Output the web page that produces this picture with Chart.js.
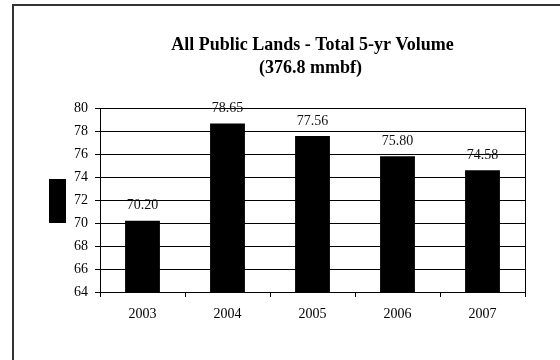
<!DOCTYPE html>
<html>
<head>
<meta charset="utf-8">
<script src="https://cdn.jsdelivr.net/npm/chart.js@4.4.1/dist/chart.umd.min.js"></script>
<style>
  html, body { margin: 0; padding: 0; background: #fff; }
  #wrap { width: 560px; height: 360px; position: relative; }
</style>
</head>
<body>
<div id="wrap"><canvas id="c"></canvas></div>
<script>
// Chart text and values
const titleLines = ['All Public Lands - Total 5-yr Volume', '(376.8 mmbf)'];
const years = ['2003', '2004', '2005', '2006', '2007'];
const volumes = [70.20, 78.65, 77.56, 75.80, 74.58];
const yMin = 64;
const yMax = 80;
const yStep = 2;

const serif = "'Liberation Serif', 'Times New Roman', Times, serif";

// White page with the framing border of the chart object
const outerFrame = {
  id: 'outerFrame',
  beforeDraw(chart) {
    const ctx = chart.ctx;
    ctx.save();
    ctx.fillStyle = '#fff';
    ctx.fillRect(0, 0, chart.width, chart.height);
    ctx.strokeStyle = '#333';
    ctx.lineWidth = 2;
    ctx.strokeRect(13, 5, chart.width + 40, chart.height + 40);
    ctx.restore();
  }
};

// Two-line bold title, centred over the plot area
const plotTitle = {
  id: 'plotTitle',
  afterDraw(chart) {
    const a = chart.chartArea;
    const ctx = chart.ctx;
    const cx = (a.left + a.right) / 2;
    ctx.save();
    ctx.font = 'bold 18px ' + serif;
    ctx.fillStyle = '#000';
    ctx.textAlign = 'center';
    ctx.textBaseline = 'alphabetic';
    ctx.fillText(titleLines[0], cx, 50);
    ctx.fillText(titleLines[1], cx - 2, 73);
    ctx.restore();
  }
};

// Box round the plot area
const plotFrame = {
  id: 'plotFrame',
  afterDatasetsDraw(chart) {
    const a = chart.chartArea;
    const ctx = chart.ctx;
    ctx.save();
    ctx.strokeStyle = '#000';
    ctx.lineWidth = 1;
    ctx.strokeRect(Math.round(a.left) + 0.5, Math.round(a.top) + 0.5,
                   Math.round(a.right - a.left), Math.round(a.bottom - a.top));
    ctx.restore();
  }
};

// Value written above each bar
const valueLabels = {
  id: 'valueLabels',
  afterDatasetsDraw(chart) {
    const ctx = chart.ctx;
    const meta = chart.getDatasetMeta(0);
    const data = chart.data.datasets[0].data;
    ctx.save();
    ctx.font = '14px ' + serif;
    ctx.fillStyle = '#111';
    ctx.textAlign = 'center';
    ctx.textBaseline = 'middle';
    meta.data.forEach((bar, i) => {
      ctx.fillText(data[i].toFixed(2), bar.x, bar.y - 15);
    });
    ctx.restore();
  }
};

// Legend key (series without a name) to the left of the value axis
const legendKey = {
  id: 'legendKey',
  afterDraw(chart) {
    const a = chart.chartArea;
    const ctx = chart.ctx;
    const w = 17, h = 44;
    const cy = (a.top + a.bottom) / 2 + 1;
    ctx.save();
    ctx.fillStyle = '#000';
    ctx.fillRect(a.left - 51, Math.round(cy - h / 2), w, h);
    ctx.restore();
  }
};

new Chart(document.getElementById('c'), {
  type: 'bar',
  data: {
    labels: years,
    datasets: [{
      data: volumes,
      backgroundColor: '#000',
      borderWidth: 0,
      barPercentage: 0.41,
      categoryPercentage: 1.0
    }]
  },
  options: {
    responsive: true,
    maintainAspectRatio: false,
    devicePixelRatio: 1,
    animation: false,
    layout: { padding: { left: 0, right: 35, top: 108, bottom: 0 } },
    plugins: {
      legend: { display: false },
      tooltip: { enabled: false },
      title: { display: false }
    },
    scales: {
      x: {
        grid: { offset: true, drawOnChartArea: false, color: '#000', tickLength: 5, lineWidth: 1 },
        border: { color: '#000', width: 1 },
        ticks: { color: '#000', font: { family: serif, size: 14 }, padding: 9, maxRotation: 0 },
        afterFit(scale) { scale.height = 68; }
      },
      y: {
        min: yMin,
        max: yMax,
        grid: { color: '#000', lineWidth: 1, tickLength: 5 },
        border: { color: '#000', width: 1 },
        ticks: { stepSize: yStep, color: '#000', font: { family: serif, size: 14 }, padding: 7 },
        afterFit(scale) { scale.width = 100; }
      }
    }
  },
  plugins: [outerFrame, plotFrame, valueLabels, legendKey, plotTitle]
});
</script>
</body>
</html>
